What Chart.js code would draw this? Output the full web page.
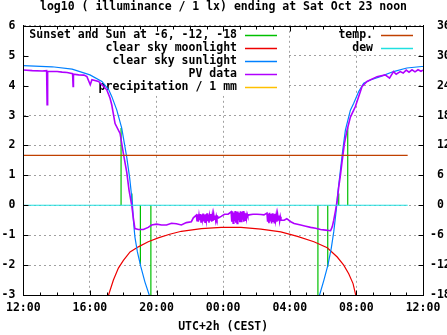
<!DOCTYPE html>
<html>
<head>
<meta charset="utf-8">
<script src="https://cdn.jsdelivr.net/npm/chart.js@4/dist/chart.umd.min.js"></script>
<style>
html, body { margin: 0; padding: 0; background: #fff; }
</style>
</head>
<body>
<canvas id="lux" width="447" height="335"></canvas>
<script>
// x values are hours after Friday noon (0 = 12:00, 24 = Sat 12:00)
const hourLabels = ['12:00', '16:00', '20:00', '00:00', '04:00', '08:00', '12:00'];

const sunHours = [0, 1.73, 2.93, 4.0, 4.72, 5.13, 5.31, 5.61, 5.91, 6.21, 6.39, 6.55, 6.61, 6.70, 6.85, 7.06, 7.30, 7.56, 7.75,
  12,
  17.6, 17.79, 18.05, 18.29, 18.49, 18.64, 18.79, 18.88, 19.04, 19.18, 19.34, 19.64, 19.84, 20.14, 20.44, 20.84, 21.43, 22.23, 23.03, 23.92, 24];
const sunLog = [4.67, 4.63, 4.55, 4.36, 4.14, 3.86, 3.64, 3.19, 2.58, 1.61, 0.90, 0.07, -0.50, -1.06, -1.56, -2.06, -2.56, -3.0, -3.4,
  null,
  -3.4, -3.0, -2.5, -2.0, -1.44, -0.89, -0.17, 0.39, 1.17, 1.84, 2.51, 3.18, 3.41, 3.80, 4.08, 4.19, 4.30, 4.47, 4.59, 4.64, 4.64];

const moonHours = [4.95, 5.12, 5.41, 5.71, 6.01, 6.41, 6.91, 7.50, 8.10, 8.79, 9.49, 10.69, 11.88, 13.07, 14.27, 15.46, 16.46, 17.45, 18.25, 18.85, 19.24, 19.54, 19.80, 19.94, 20.05];
const moonLog = [-3.5, -3.0, -2.5, -2.1, -1.84, -1.56, -1.39, -1.22, -1.09, -0.97, -0.87, -0.78, -0.74, -0.74, -0.80, -0.89, -1.04, -1.22, -1.42, -1.73, -2.0, -2.29, -2.62, -2.95, -3.3];

const pvHours = [
  0, 0.54, 1.13, 1.40, 1.43, 1.46, 2.03, 2.33, 2.63, 2.96, 2.99, 3.01, 3.33, 3.64, 3.82, 4.02, 4.12, 4.52, 4.91, 5.01,
  5.21, 5.31, 5.51, 5.81, 6.01, 6.21, 6.35, 6.51, 6.61, 6.70, 6.91, 7.21, 7.50, 7.70, 8.00, 8.30, 8.60, 8.90, 9.19, 9.49,
  9.79, 10.09, 10.21,
  10.39, 10.43, 10.47, 10.51, 10.55, 10.59, 10.63, 10.67, 10.71, 10.75, 10.79, 10.83, 10.87, 10.91, 10.95, 10.99, 11.03,
  11.07, 11.11, 11.15, 11.19, 11.23, 11.27, 11.31, 11.35, 11.39, 11.43, 11.47, 11.51, 11.55, 11.59, 11.63, 11.67, 11.72,
  11.88, 12.08, 12.30,
  12.48, 12.52, 12.56, 12.60, 12.64, 12.68, 12.72, 12.76, 12.80, 12.84, 12.88, 12.92, 12.96, 13.00, 13.04, 13.08, 13.12,
  13.16, 13.20, 13.24, 13.28, 13.32, 13.36, 13.40, 13.44, 13.48,
  13.55, 13.79, 14.03, 14.27, 14.45,
  14.63, 14.67, 14.71, 14.75, 14.79, 14.83, 14.87, 14.91, 14.95, 14.99, 15.03, 15.07, 15.11, 15.15, 15.19, 15.23, 15.27,
  15.31, 15.35, 15.39, 15.43, 15.47,
  15.66, 15.82, 16.06, 16.26, 16.66, 16.96, 17.25, 17.55, 17.85, 18.15, 18.45, 18.55, 18.64, 18.75, 18.85, 18.94, 19.04,
  19.15, 19.28, 19.44, 19.64, 19.84, 19.94, 20.14, 20.34, 20.64, 21.24, 21.73, 21.99, 22.23, 22.39, 22.63, 22.81, 22.99,
  23.16, 23.34, 23.52, 23.70, 23.88, 24.0];
const pvLog = [
  4.52, 4.50, 4.49, 4.50, 3.36, 4.48, 4.47, 4.45, 4.44, 4.40, 3.97, 4.38, 4.36, 4.35, 4.30, 4.03, 4.20, 4.14, 3.92, 3.86,
  3.58, 3.36, 2.73, 2.40, 1.73, 1.11, 0.50, 0.00, -0.44, -0.78, -0.81, -0.81, -0.74, -0.66, -0.63, -0.66, -0.66, -0.60, -0.62, -0.66,
  -0.58, -0.55, -0.42,
  -0.33, -0.52, -0.30, -0.55, -0.34, -0.50, -0.29, -0.56, -0.31, -0.48, -0.28, -0.54, -0.32, -0.57, -0.30, -0.50, -0.27,
  -0.53, -0.31, -0.58, -0.35, -0.49, -0.29, -0.55, -0.33, -0.52, -0.30, -0.47, -0.34, -0.51, -0.36, -0.46, -0.38, -0.42,
  -0.37, -0.30, -0.30,
  -0.22, -0.55, -0.20, -0.60, -0.24, -0.52, -0.19, -0.58, -0.23, -0.61, -0.21, -0.50, -0.25, -0.57, -0.20, -0.54, -0.22,
  -0.48, -0.19, -0.55, -0.24, -0.50, -0.27, -0.45, -0.29, -0.36,
  -0.32, -0.30, -0.30, -0.31, -0.32,
  -0.26, -0.55, -0.28, -0.60, -0.25, -0.52, -0.29, -0.61, -0.27, -0.56, -0.30, -0.58, -0.28, -0.50, -0.32, -0.55, -0.31,
  -0.49, -0.34, -0.53, -0.38, -0.50,
  -0.50, -0.45, -0.55, -0.61, -0.66, -0.70, -0.74, -0.77, -0.81, -0.83, -0.85, -0.72, -0.50, -0.17, 0.17, 0.61, 1.00,
  1.50, 2.06, 2.51, 2.95, 3.18, 3.30, 3.64, 3.97, 4.14, 4.30, 4.36, 4.25, 4.47, 4.38, 4.47, 4.42, 4.52,
  4.45, 4.53, 4.46, 4.53, 4.48, 4.52];

// sunset, sun at -6, -12, -18 (evening) and -18, -12, -6, sunrise (morning)
const twilightHours = [5.87, 6.52, 7.03, 7.66, 17.69, 18.28, 18.94, 19.48];
const twilightTop = [2.58, 0.39, -1.97, -3.2, -3.2, -2.06, 0.39, 2.60];

const precipHours = [];
const precipMm = [];

const weatherHours = [0, 23.08];
const tempC = [10, 10];
const dewC = [0, 0];

const pts = (xs, ys) => xs.map((x, i) => ({ x: x, y: ys[i] }));

const twilightPts = [];
twilightHours.forEach((h, i) => {
  twilightPts.push({ x: h, y: 0 }, { x: h, y: twilightTop[i] }, { x: h, y: null });
});

const FONT = 'DejaVu Sans Mono';
Chart.defaults.font.family = FONT;
Chart.defaults.font.size = 11.5;
Chart.defaults.font.weight = 'bold';
Chart.defaults.color = '#000';

// gnuplot style key: text right-aligned, sample line to its right
const gnuKey = {
  id: 'gnuKey',
  beforeDatasetsDraw(chart) {
    const ctx = chart.ctx;
    const a = chart.chartArea;
    ctx.save();
    ctx.fillStyle = '#fff';
    ctx.fillRect(a.left + 1, a.top + 1, 262, 69);
    ctx.font = 'bold 11.5px ' + FONT;
    ctx.textAlign = 'right';
    ctx.textBaseline = 'middle';
    const cols = [[0, 1, 2, 3, 4], [5, 6]];
    const textX = [237, 373];
    cols.forEach((col, c) => {
      col.forEach((di, r) => {
        const ds = chart.data.datasets[di];
        const y = 35 + r * 13;
        ctx.fillStyle = '#000';
        ctx.fillText(ds.label, textX[c], y);
        ctx.strokeStyle = ds.borderColor;
        ctx.lineWidth = 1.5;
        ctx.beginPath();
        ctx.moveTo(textX[c] + 8, Math.round(y) + 0.5);
        ctx.lineTo(textX[c] + 40, Math.round(y) + 0.5);
        ctx.stroke();
      });
    });
    ctx.restore();
  }
};

// border box and inward tics
const frame = {
  id: 'frame',
  afterDatasetsDraw(chart) {
    const { ctx, chartArea: a, scales } = chart;
    const L = Math.round(a.left) + 0.5, R = Math.round(a.right) + 0.5;
    const T = Math.round(a.top) + 0.5, B = Math.round(a.bottom) + 0.5;
    ctx.save();
    ctx.strokeStyle = '#000';
    ctx.lineWidth = 1;
    ctx.strokeRect(L, T, R - L, B - T);
    ctx.beginPath();
    for (let h = 1; h < 24; h++) {
      const x = Math.round(scales.x.getPixelForValue(h)) + 0.5;
      const len = h % 4 === 0 ? 5 : 3;
      ctx.moveTo(x, B); ctx.lineTo(x, B - len);
      ctx.moveTo(x, T); ctx.lineTo(x, T + len);
    }
    scales.y.ticks.forEach(t => {
      const y = Math.round(scales.y.getPixelForValue(t.value)) + 0.5;
      ctx.moveTo(L, y); ctx.lineTo(L + 5, y);
    });
    scales.y2.ticks.forEach(t => {
      const y = Math.round(scales.y2.getPixelForValue(t.value)) + 0.5;
      ctx.moveTo(R, y); ctx.lineTo(R - 5, y);
    });
    ctx.stroke();
    ctx.restore();
  }
};

const line = (label, data, color, order, extra) => Object.assign({
  label: label,
  data: data,
  borderColor: color,
  backgroundColor: color,
  borderWidth: 1.2,
  pointRadius: 0,
  fill: false,
  tension: 0,
  spanGaps: false,
  order: order,
  yAxisID: 'y'
}, extra || {});

new Chart(document.getElementById('lux'), {
  type: 'line',
  data: {
    datasets: [
      line('Sunset and Sun at -6, -12, -18', twilightPts, '#00c000', 7),
      line('clear sky moonlight', pts(moonHours, moonLog), '#ee0000', 6),
      line('clear sky sunlight', pts(sunHours, sunLog), '#0080ff', 5),
      line('PV data', pts(pvHours, pvLog), '#b000ff', 4, { borderWidth: 1.6 }),
      line('precipitation / 1 mm', pts(precipHours, precipMm), '#ffc000', 3),
      line('temp.', pts(weatherHours, tempC), '#c04000', 2, { yAxisID: 'y2' }),
      line('dew', pts(weatherHours, dewC), '#20e0e0', 1, { yAxisID: 'y2' })
    ]
  },
  options: {
    responsive: false,
    animation: false,
    layout: { padding: 0 },
    plugins: {
      legend: { display: false },
      tooltip: { enabled: false },
      title: {
        display: true,
        text: 'log10 ( illuminance / 1 lx) ending at Sat Oct 23 noon',
        font: { size: 11.5, weight: 'bold' },
        padding: { top: 0, bottom: 12 }
      }
    },
    scales: {
      x: {
        type: 'linear',
        min: 0,
        max: 24,
        afterFit: s => { s.height = 40; },
        ticks: {
          stepSize: 4,
          padding: 6,
          maxRotation: 0,
          callback: v => hourLabels[v / 4]
        },
        grid: { color: '#a0a0a0', drawTicks: false },
        border: { display: true, color: '#000', dash: [2, 3] },
        title: {
          display: true,
          text: 'UTC+2h (CEST)',
          padding: { top: 0, bottom: 1 }
        }
      },
      y: {
        min: -3,
        max: 6,
        afterFit: s => { s.width = 21; },
        ticks: { stepSize: 1, padding: 8 },
        grid: { color: '#a0a0a0', drawTicks: false },
        border: { display: true, color: '#000', dash: [2, 3] }
      },
      y2: {
        position: 'right',
        min: -18,
        max: 36,
        afterFit: s => { s.width = 24; },
        ticks: {
          stepSize: 6,
          padding: 7,
          callback: v => (v < 0 ? String(v) : ' ' + v)
        },
        grid: { drawOnChartArea: false, drawTicks: false },
        border: { display: true, color: '#000' }
      }
    }
  },
  plugins: [gnuKey, frame]
});
</script>
</body>
</html>
